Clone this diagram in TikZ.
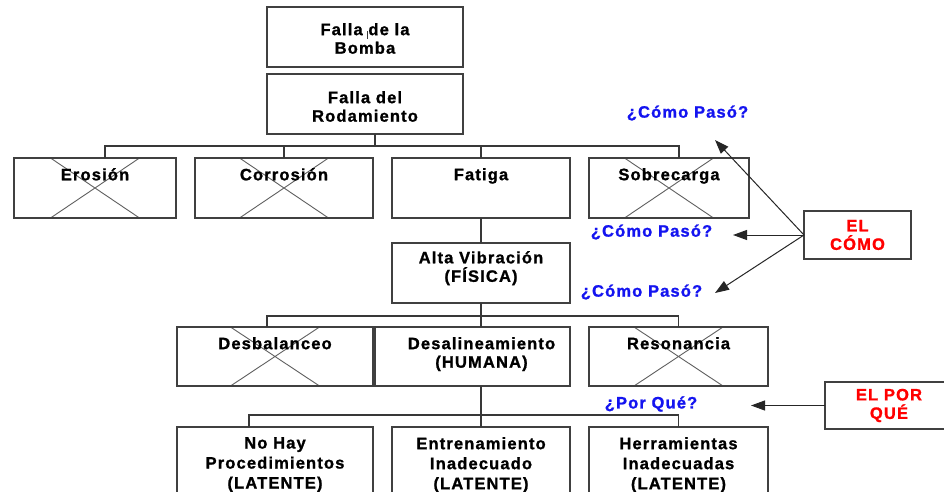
\documentclass[tikz,border=0pt]{standalone}
\usepackage{fontspec}
\setmainfont{Liberation Sans}[BoldFont={Liberation Sans Bold},BoldFeatures={LetterSpace=7,FakeBold=1.2},LetterSpace=7]
\usetikzlibrary{arrows.meta}
\definecolor{boxc}{HTML}{404040}
\definecolor{connc}{HTML}{383838}
\definecolor{crossc}{HTML}{606060}
\definecolor{qblue}{HTML}{1414F0}
\definecolor{qred}{HTML}{FF0000}
\begin{document}
\begin{tikzpicture}[x=1pt,y=-1pt,
  box/.style={draw=boxc,line width=1.3pt,inner sep=0pt,outer sep=0pt},
  crossed/.style={path picture={
      \draw[crossc,line width=0.9pt]
        ([xshift=-44.5pt]path picture bounding box.north) -- ([xshift=44.5pt]path picture bounding box.south)
        ([xshift=44.5pt]path picture bounding box.north) -- ([xshift=-44.5pt]path picture bounding box.south);}},
  txt/.style={font=\bfseries\fontsize{16.5}{18.5}\selectfont,align=center,inner sep=0pt,anchor=north},
  txtb/.style={font=\bfseries\fontsize{16.5}{20}\selectfont,align=center,inner sep=0pt,anchor=north},
  redtxt/.style={font=\bfseries\fontsize{16.5}{18.5}\selectfont,align=center,text=qred},
  q/.style={font=\bfseries\fontsize{16.5}{18.5}\selectfont,text=qblue,inner sep=0pt},
  conn/.style={draw=connc,line width=1.1pt},
  arr/.style={draw=black!85,line width=1pt,-{Triangle[length=14pt,width=10pt]}}]
\useasboundingbox (0,0) rectangle (944,492);
\clip (0,0) rectangle (944,492);
\fill[white] (0,0) rectangle (944,492);

% level 0/1
\node[box,minimum width=196pt,minimum height=60pt] (bomba) at (365,37) {};
\node[txt] (tbomba) at ([yshift=-16pt]bomba.north) {Falla de la\\Bomba};
\draw[conn,line width=0.8pt] (367,31) -- (367,39);
\node[box,minimum width=196pt,minimum height=60pt] (rodam) at (365,104) {};
\node[txt] (trodam) at ([yshift=-17pt]rodam.north) {Falla del\\Rodamiento};

% level 2
\node[box,crossed,minimum width=162pt,minimum height=60pt] (erosion) at (95,188) {};
\node[box,crossed,minimum width=178pt,minimum height=60pt] (corrosion) at (284,188) {};
\node[box,minimum width=178pt,minimum height=60pt] (fatiga) at (481,188) {};
\node[box,crossed,minimum width=160pt,minimum height=60pt] (sobre) at (669,188) {};
\node[txt] (terosion) at ([yshift=-10pt]erosion.north) {Erosión};
\node[txt] (tcorrosion) at ([yshift=-10pt]corrosion.north) {Corrosión};
\node[txt] (tfatiga) at ([yshift=-10pt]fatiga.north) {Fatiga};
\node[txt] (tsobre) at ([yshift=-10pt]sobre.north) {Sobrecarga};

% level 3
\node[box,minimum width=178pt,minimum height=60pt] (alta) at (481,273) {};
\node[txt] (talta) at ([yshift=-8pt]alta.north) {Alta Vibración\\(FÍSICA)};

% level 4
\node[box,crossed,minimum width=196pt,minimum height=59pt] (desbal) at (275,356.5) {};
\node[box,minimum width=195pt,minimum height=59pt] (desal) at (472.5,356.5) {};
\node[box,crossed,minimum width=179pt,minimum height=59pt] (reson) at (678.5,356.5) {};
\node[txt] (tdesbal) at ([yshift=-10pt]desbal.north) {Desbalanceo};
\node[txt] (tdesal) at ([yshift=-10pt,xshift=9pt]desal.north) {Desalineamiento\\(HUMANA)};
\node[txt] (treson) at ([yshift=-10pt]reson.north) {Resonancia};

% level 5
\node[box,minimum width=196pt,minimum height=75pt] (nohay) at (275,464.5) {};
\node[box,minimum width=178pt,minimum height=75pt] (entren) at (481,464.5) {};
\node[box,minimum width=179pt,minimum height=75pt] (herr) at (678.5,464.5) {};
\node[txtb] (tnohay) at ([yshift=-10pt]nohay.north) {No Hay\\Procedimientos\\(LATENTE)};
\node[txtb] (tentren) at ([yshift=-10pt]entren.north) {Entrenamiento\\Inadecuado\\(LATENTE)};
\node[txtb] (therr) at ([yshift=-10pt]herr.north) {Herramientas\\Inadecuadas\\(LATENTE)};

% tree connectors
\coordinate (bar1) at (0,146);
\coordinate (bar2) at (0,316);
\coordinate (bar3) at (0,415);
\draw[conn] ([xshift=10pt]rodam.south) -- ([xshift=10pt]rodam.south |- bar1);
\draw[conn] ([xshift=10pt]erosion.north) -- ([xshift=10pt]erosion.north |- bar1)
  -- ([xshift=10pt]sobre.north |- bar1) -- ([xshift=10pt]sobre.north);
\draw[conn] (corrosion.north) -- (corrosion.north |- bar1);
\draw[conn] (fatiga.north) -- (fatiga.north |- bar1);
\draw[conn] (fatiga.south) -- (alta.north);
\draw[conn] (alta.south) -- (alta.south |- desal.north);
\draw[conn] ([xshift=-8pt]desbal.north) -- ([xshift=-8pt]desbal.north |- bar2)
  -- (reson.north |- bar2) -- (reson.north);
\draw[conn] (entren.north |- desal.south) -- (entren.north);
\draw[conn] ([xshift=-26pt]nohay.north) -- ([xshift=-26pt]nohay.north |- bar3)
  -- (herr.north |- bar3) -- (herr.north);

% side boxes
\node[box,redtxt,minimum width=107pt,minimum height=48pt] (como) at (857.5,235) {EL\\CÓMO};
\node[box,redtxt,minimum width=128pt,minimum height=47pt] (porque) at (889,405.5) {EL POR\\QUÉ};

% questions
\node[q] (q1) at (687.5,113) {¿Cómo Pasó?};
\node[q] (q2) at (651.5,232) {¿Cómo Pasó?};
\node[q] (q3) at (641.5,292) {¿Cómo Pasó?};
\node[q] (q4) at (651,404) {¿Por Qué?};

% arrows
\coordinate (t1) at (715,140);
\coordinate (t2) at (733,235);
\coordinate (t3) at (715,293);
\coordinate (t4) at (751,405.5);
\draw[arr] (como.west) -- (t1);
\draw[arr] (como.west) -- (t2);
\draw[arr] (como.west) -- (t3);
\draw[arr] (porque.west) -- (t4);
\end{tikzpicture}
\end{document}
